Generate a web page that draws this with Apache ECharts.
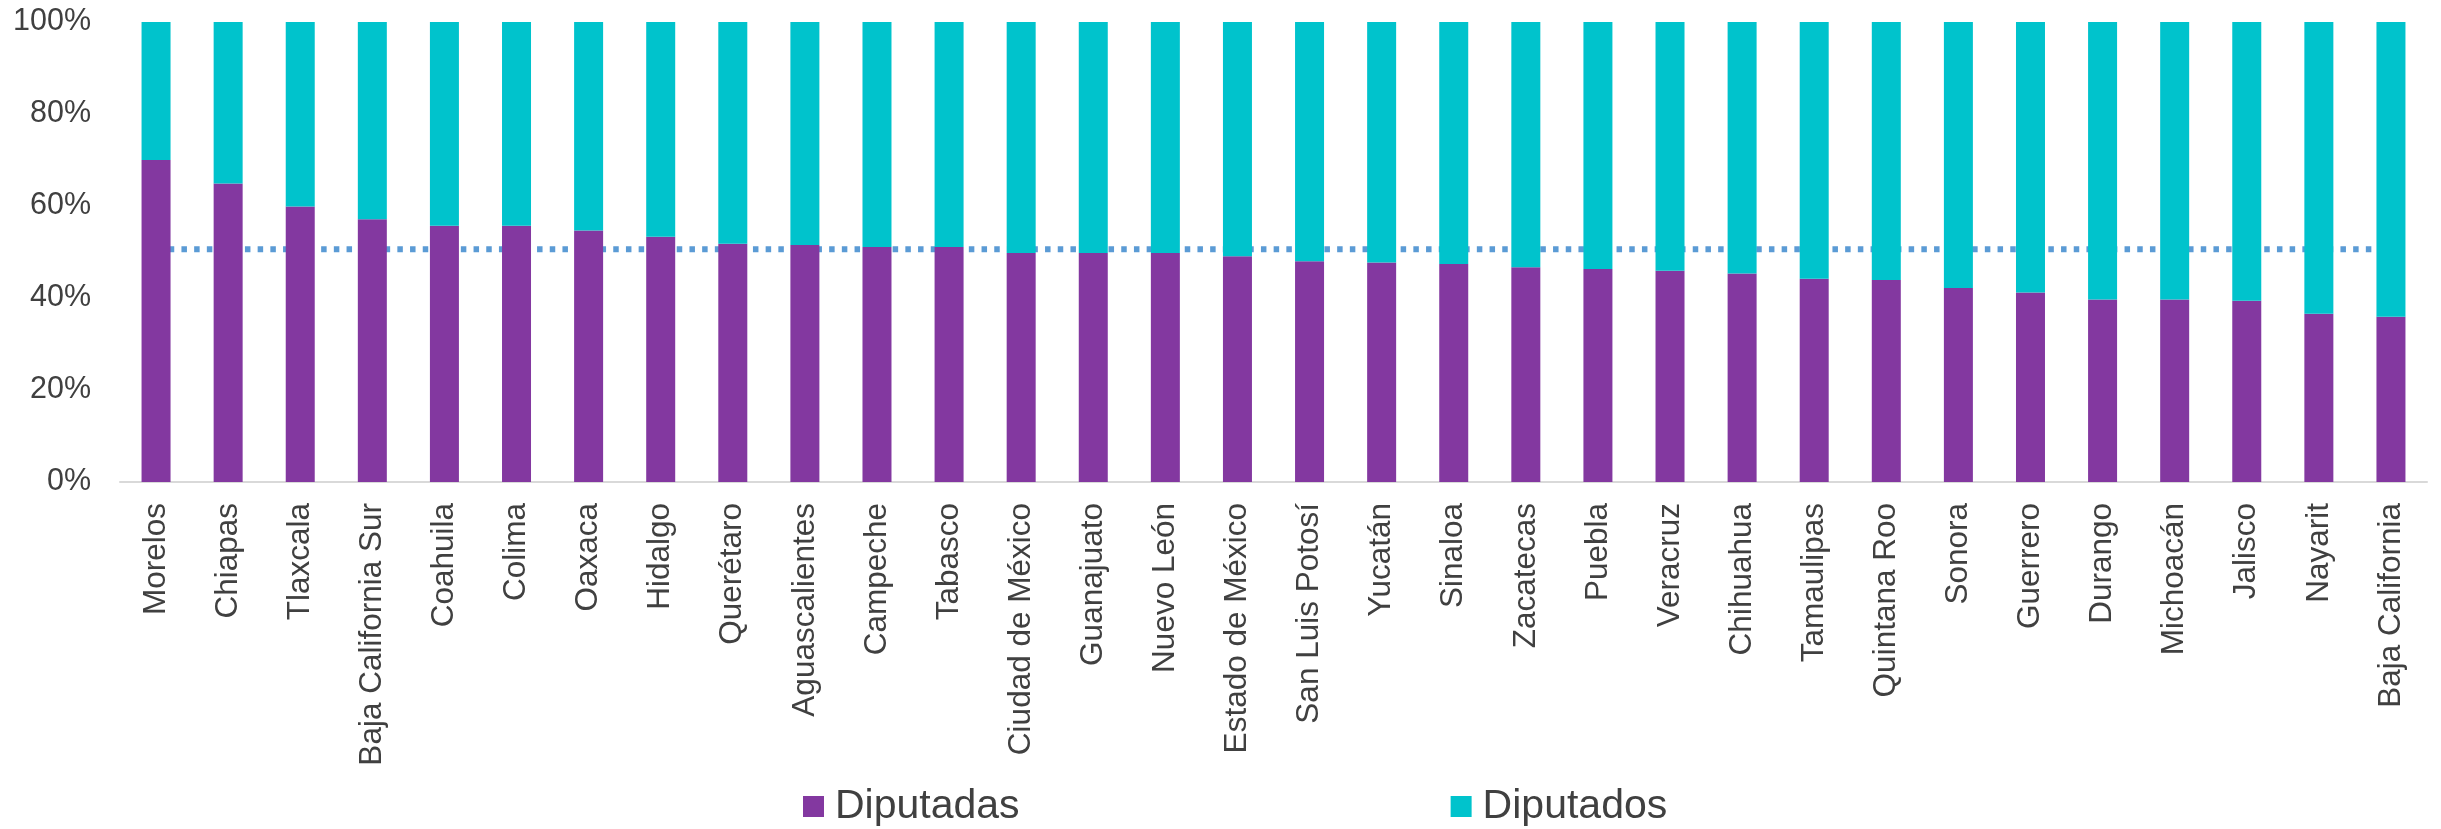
<!DOCTYPE html>
<html>
<head>
<meta charset="utf-8">
<script src="https://cdn.jsdelivr.net/npm/echarts@6/dist/echarts.min.js"></script>
<style>
  html, body { margin: 0; padding: 0; background: #ffffff; }
  #chart { width: 2441px; height: 829px; }
</style>
</head>
<body>
<div id="chart"></div>
<script>
// States, ordered by share of women in the local congress
const states = [
  'Morelos', 'Chiapas', 'Tlaxcala', 'Baja California Sur', 'Coahuila', 'Colima',
  'Oaxaca', 'Hidalgo', 'Querétaro', 'Aguascalientes', 'Campeche', 'Tabasco',
  'Ciudad de México', 'Guanajuato', 'Nuevo León', 'Estado de México',
  'San Luis Potosí', 'Yucatán', 'Sinaloa', 'Zacatecas', 'Puebla', 'Veracruz',
  'Chihuahua', 'Tamaulipas', 'Quintana Roo', 'Sonora', 'Guerrero', 'Durango',
  'Michoacán', 'Jalisco', 'Nayarit', 'Baja California'
];

// Share of seats (%) held by women
const diputadas = [
  70.0, 64.9, 59.9, 57.1, 55.7, 55.7, 54.7, 53.3, 51.8, 51.5, 51.1, 51.1,
  49.8, 49.8, 49.8, 49.1, 48.0, 47.7, 47.4, 46.7, 46.3, 45.9, 45.3, 44.2,
  43.9, 42.2, 41.2, 39.7, 39.7, 39.4, 36.6, 35.9
];

// Share of seats (%) held by men
const diputados = [
  30.0, 35.1, 40.1, 42.9, 44.3, 44.3, 45.3, 46.7, 48.2, 48.5, 48.9, 48.9,
  50.2, 50.2, 50.2, 50.9, 52.0, 52.3, 52.6, 53.3, 53.7, 54.1, 54.7, 55.8,
  56.1, 57.8, 58.8, 60.3, 60.3, 60.6, 63.4, 64.1
];

// National reference share of women (%)
const referenceShare = 50.6;
const referenceLine = states.map(() => referenceShare);

// Y axis ticks
const yTicks = { min: 0, max: 100, interval: 20 };

const FONT = '"Liberation Sans", Arial, sans-serif';
const TEXT = '#404040';

const chart = echarts.init(document.getElementById('chart'), null, { renderer: 'canvas' });

chart.setOption({
  animation: false,
  backgroundColor: '#ffffff',
  textStyle: { fontFamily: FONT },
  grid: { left: 120, right: 14, top: 22, bottom: 347, containLabel: false },
  legend: {
    left: 798,
    top: 781,
    itemWidth: 21,
    itemHeight: 21,
    itemGap: 431,
    icon: 'rect',
    textStyle: { fontFamily: FONT, fontSize: 41, color: TEXT, padding: [0, 0, 0, 6] },
    data: ['Diputadas', 'Diputados']
  },
  xAxis: {
    type: 'category',
    data: states,
    axisLine: { show: true, lineStyle: { color: '#D9D9D9', width: 2 } },
    axisTick: { show: false },
    axisLabel: {
      interval: 0,
      rotate: 90,
      margin: 21,
      fontFamily: FONT,
      fontSize: 31.5,
      color: TEXT
    }
  },
  yAxis: {
    type: 'value',
    min: yTicks.min,
    max: yTicks.max,
    interval: yTicks.interval,
    splitLine: { show: false },
    axisLine: { show: false },
    axisTick: { show: false },
    axisLabel: {
      formatter: '{value}%',
      margin: 29,
      fontFamily: FONT,
      fontSize: 30.5,
      color: TEXT
    }
  },
  series: [
    {
      name: 'Referencia',
      type: 'line',
      data: referenceLine,
      z: 1,
      symbol: 'none',
      silent: true,
      lineStyle: { color: '#5B9BD5', width: 6, type: [5.5, 7.2], cap: 'butt' }
    },
    {
      name: 'Diputadas',
      type: 'bar',
      stack: 'total',
      data: diputadas,
      barWidth: 29,
      z: 3,
      itemStyle: { color: '#8338A0' }
    },
    {
      name: 'Diputados',
      type: 'bar',
      stack: 'total',
      data: diputados,
      barWidth: 29,
      z: 3,
      itemStyle: { color: '#00C3CC' }
    }
  ]
});
</script>
</body>
</html>
